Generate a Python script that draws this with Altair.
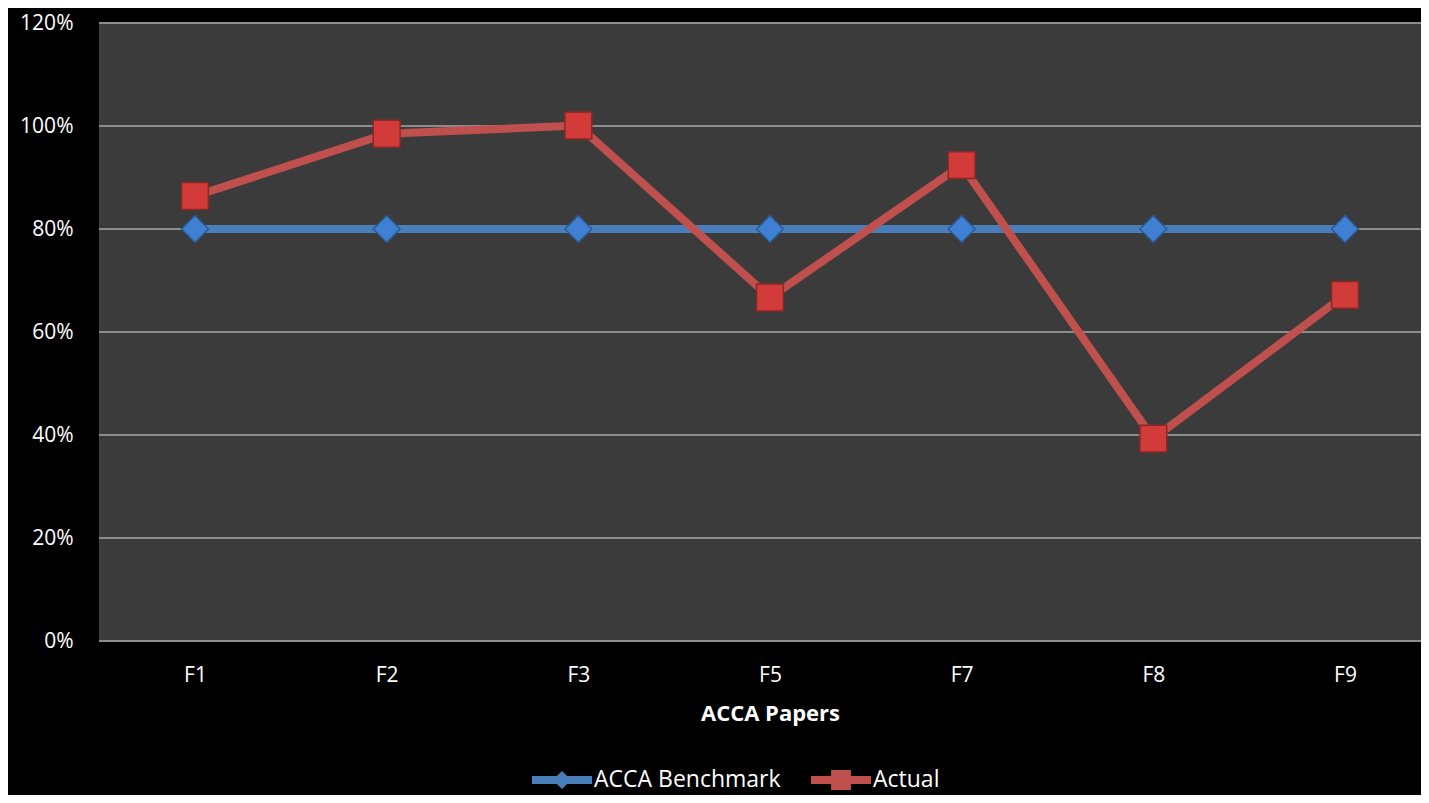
import altair as alt
import pandas as pd

papers = ["F1", "F2", "F3", "F5", "F7", "F8", "F9"]
benchmark = [0.80, 0.80, 0.80, 0.80, 0.80, 0.80, 0.80]
actual = [0.864, 0.985, 1.001, 0.667, 0.924, 0.393, 0.672]
series_names = ["ACCA Benchmark", "Actual"]
line_colors = ["#4a7ebb", "#c0504d"]
marker_fill = ["#3f80d2", "#d23b3a"]
marker_stroke = ["#2b5a92", "#8a2826"]
y_ticks = [0.0, 0.2, 0.4, 0.6, 0.8, 1.0, 1.2]

rows = []
for p, b in zip(papers, benchmark):
    rows.append({"paper": p, "series": series_names[0], "value": b})
for p, a in zip(papers, actual):
    rows.append({"paper": p, "series": series_names[1], "value": a})
df = pd.DataFrame(rows)
grid_df = pd.DataFrame({"value": y_ticks})

FONT = "Open Sans"

bench_path = ("M-1,-0.13L-0.17,-0.13L0,-0.3L0.17,-0.13L1,-0.13L1,0.13"
              "L0.17,0.13L0,0.3L-0.17,0.13L-1,0.13Z")
actual_path = ("M-1,-0.13L-0.33,-0.13L-0.33,-0.33L0.33,-0.33L0.33,-0.13L1,-0.13"
               "L1,0.13L0.33,0.13L0.33,0.33L-0.33,0.33L-0.33,0.13L-1,0.13Z")

x_enc = alt.X(
    "paper:N",
    sort=papers,
    scale=alt.Scale(type="point", range=[96, 1246], padding=0),
    axis=alt.Axis(
        title="ACCA Papers",
        titleColor="white",
        titleFont=FONT,
        titleFontSize=22,
        titleFontWeight="bold",
        titleX=671,
        titlePadding=18,
        labelColor="white",
        labelFont=FONT,
        labelFontSize=21,
        labelPadding=23,
        labelAngle=0,
        ticks=False,
        domain=False,
        grid=False,
    ),
)
y_scale = alt.Scale(domain=[0, 1.2], nice=False, zero=True)
y_enc = alt.Y(
    "value:Q",
    scale=y_scale,
    axis=alt.Axis(
        title=None,
        values=y_ticks,
        format=".0%",
        labelColor="white",
        labelFont=FONT,
        labelFontSize=21,
        labelPadding=26,
        ticks=False,
        domain=False,
        grid=False,
    ),
)

color_scale = alt.Scale(domain=series_names, range=line_colors)
legend = alt.Legend(
    title=None,
    orient="none",
    direction="horizontal",
    legendX=433,
    legendY=727,
    symbolSize=3600,
    symbolStrokeWidth=0,
    symbolOpacity=1,
    labelColor="white",
    labelFont=FONT,
    labelFontSize=23,
    labelOffset=2,
    labelLimit=500,
    columnPadding=30,
)

gridlines = alt.Chart(grid_df).mark_rule(color="#8c8c8c", strokeWidth=2).encode(y=y_enc)

lines = alt.Chart(df).mark_line(strokeWidth=8).encode(
    x=x_enc,
    y=y_enc,
    color=alt.Color("series:N", scale=color_scale, sort=series_names, legend=legend),
)

# carries the legend symbols (line with marker); drawn invisibly in the plot
legend_layer = alt.Chart(df).mark_point(filled=True, opacity=0, size=3600).encode(
    x=x_enc,
    y=y_enc,
    color=alt.Color("series:N", scale=color_scale, sort=series_names, legend=legend),
    shape=alt.Shape("series:N", scale=alt.Scale(domain=series_names, range=[bench_path, actual_path]),
                    sort=series_names, legend=legend),
)

bench_pts = alt.Chart(df).transform_filter(
    alt.datum.series == series_names[0]
).mark_point(shape="diamond", filled=True, size=720, opacity=1, strokeWidth=1.5,
             fill=marker_fill[0], stroke=marker_stroke[0]).encode(x=x_enc, y=y_enc)

actual_pts = alt.Chart(df).transform_filter(
    alt.datum.series == series_names[1]
).mark_point(shape="square", filled=True, size=720, opacity=1, strokeWidth=1.5,
             fill=marker_fill[1], stroke=marker_stroke[1]).encode(x=x_enc, y=y_enc)

chart = (
    alt.layer(gridlines, lines, legend_layer, bench_pts, actual_pts)
    .properties(
        width=1322,
        height=618,
        background="black",
        autosize=alt.AutoSizeParams(type="none"),
        padding={"left": 91, "top": 15, "right": 0, "bottom": 154},
    )
    .configure_view(fill="#3b3b3b", strokeWidth=0)
)

chart.save("out.html", embed_options={"renderer": "svg", "actions": False})
